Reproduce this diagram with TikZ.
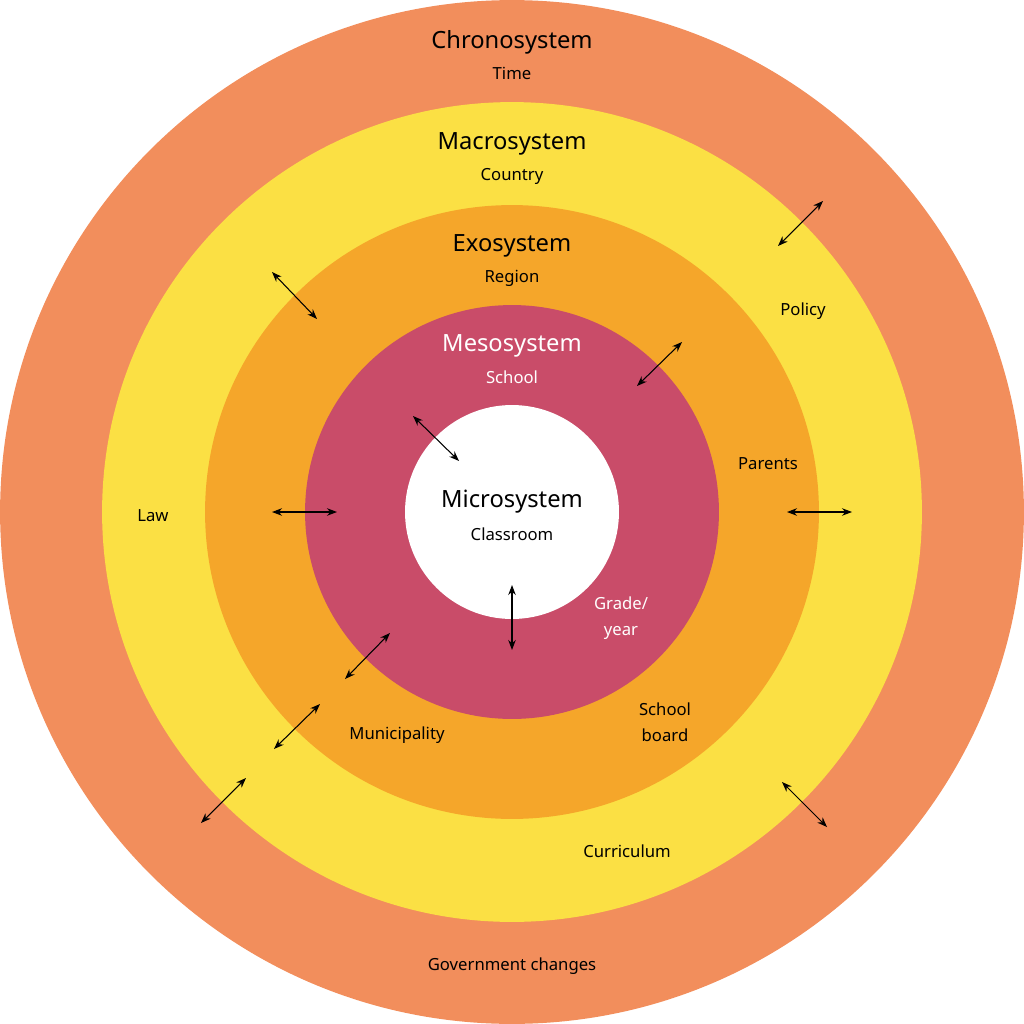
\documentclass[tikz,border=0pt]{standalone}
\usepackage{fontspec}
\setmainfont{Noto Sans}
\usetikzlibrary{arrows.meta}
\definecolor{chrono}{HTML}{F28E5C}
\definecolor{macro}{HTML}{FBE044}
\definecolor{exo}{HTML}{F5A62A}
\definecolor{meso}{HTML}{C94C69}
\tikzset{
	title/.style={font=\fontsize{13.5}{15}\selectfont},
	label/.style={font=\fontsize{9.5}{12}\selectfont,align=center},
	link/.style={{Stealth[length=2mm,width=1.5mm]}-{Stealth[length=2mm,width=1.5mm]},semithick}
}
\begin{document}
\begin{tikzpicture}[x=0.02cm,y=-0.02cm]
	\useasboundingbox (0,0) rectangle (1024,1024);
	%RINGS
	\fill[chrono] (512,512) circle[radius=10.24cm];
	\fill[macro]  (512,512) circle[radius=8.2cm];
	\fill[exo]    (512,512) circle[radius=6.14cm];
	\fill[meso]   (512,512) circle[radius=4.14cm];
	\fill[white]  (512,512) circle[radius=2.14cm];

	%TITLES
	\node[title] (chrono) at (512,42)  {Chronosystem};
	\node[label] (time)   at (512,73)  {Time};
	\node[title] (macro)  at (512,144) {Macrosystem};
	\node[label] (country) at (512,176) {Country};
	\node[title] (exo)    at (512,246) {Exosystem};
	\node[label] (region) at (512,278) {Region};
	\node[title,white] (meso) at (512,346) {Mesosystem};
	\node[label,white] (school) at (512,377) {School};
	\node[title] (micro)  at (512,502) {Microsystem};
	\node[label] (class)  at (512,534) {Classroom};

	%LABELS
	\node[label] (policy)  at (803,311) {Policy};
	\node[label] (parents) at (768,464) {Parents};
	\node[label] (law)     at (153,516) {Law};
	\node[label,white,font=\fontsize{9.5}{15}\selectfont] (grade) at (621,618) {Grade/\\year};
	\node[label,font=\fontsize{9.5}{15}\selectfont] (board) at (665,722) {School\\board};
	\node[label] (muni)    at (397,735) {Municipality};
	\node[label] (curric)  at (627,851) {Curriculum};
	\node[label] (gov)     at (512,966) {Government changes};

	%ARROWS
	\foreach \ax/\ay/\bx/\by in {778/246/823/201, 272/272/317/319, 637/386/682/342,
		413/416/459/461, 272/512/337/512, 787/512/852/512, 512/585/512/650,
		345/679/390/633, 274/749/320/704, 201/823/246/778, 782/782/827/827}
		\draw[link] (\ax,\ay)--(\bx,\by);
\end{tikzpicture}
\end{document}
